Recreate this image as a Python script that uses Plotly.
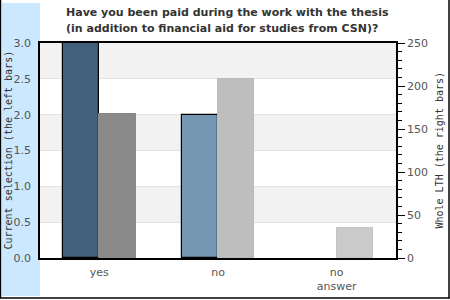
import plotly.graph_objects as go

categories = ["yes", "no", "no<br>answer"]
current_selection = [3, 2, 0]
whole_lth = [167, 208, 35]
left_colors = ["#41607c", "#7597b3", "#7597b3"]
right_colors = ["#8a8a8a", "#bebebe", "#cbcbcb"]
right_lines = ["#888888", "#bababa", "#c2c2c2"]
left_ticks = [0, 0.5, 1.0, 1.5, 2.0, 2.5, 3.0]
right_ticks = [0, 50, 100, 150, 200, 250]
title_lines = ["Have you been paid during the work with the thesis",
               "(in addition to financial aid for studies from CSN)?"]

L, R, T, B = 40, 54, 43, 42
W, H = 450, 300
pw, ph = W - L - R, H - T - B

def px(x):
    return (x - L) / pw

def py(y):
    return (H - B - y) / ph

x_idx = list(range(len(categories)))

fig = go.Figure()
fig.add_trace(go.Bar(
    x=x_idx, y=current_selection, yaxis="y", width=0.305, offset=-0.305,
    marker=dict(color=left_colors, line=dict(color="black", width=[1.2 if v > 0 else 0 for v in current_selection])),
    showlegend=False, hoverinfo="skip"))
fig.add_trace(go.Bar(
    x=x_idx, y=whole_lth, yaxis="y2", width=0.305, offset=0,
    marker=dict(color=right_colors, line=dict(color=right_lines, width=1)),
    showlegend=False, hoverinfo="skip"))

shapes = []
shapes.append(dict(type="rect", xref="paper", yref="paper", x0=px(2), x1=px(40), y0=py(296), y1=py(3),
                   fillcolor="#cce8ff", line=dict(width=0), layer="below"))
for lo in [0.5, 1.5, 2.5]:
    shapes.append(dict(type="rect", xref="paper", yref="y", x0=0, x1=1, y0=lo, y1=lo + 0.5,
                       fillcolor="#f2f2f2", line=dict(width=0), layer="below"))
shapes.append(dict(type="line", xref="paper", yref="paper", x0=px(0.5), x1=px(0.5), y0=py(298.5), y1=py(0),
                   line=dict(color="black", width=1.5)))
shapes.append(dict(type="line", xref="paper", yref="paper", x0=px(0), x1=px(449.5), y0=py(298), y1=py(298),
                   line=dict(color="black", width=1.5)))
shapes.append(dict(type="line", xref="paper", yref="paper", x0=px(449), x1=px(449), y0=py(298.5), y1=py(0),
                   line=dict(color="black", width=1.5)))

title_font = dict(family="DejaVu Sans", size=11, color="#333333", weight="bold")
annotations = [
    dict(text=title_lines[0], xref="paper", yref="paper", x=px(64), y=py(12), xanchor="left", yanchor="middle",
         showarrow=False, font=title_font),
    dict(text=title_lines[1], xref="paper", yref="paper", x=px(64), y=py(28), xanchor="left", yanchor="middle",
         showarrow=False, font=title_font),
    dict(text="Current selection (the left bars)", xref="paper", yref="paper", x=px(8), y=0.5,
         xanchor="center", yanchor="middle",
         textangle=-90, showarrow=False, font=dict(family="DejaVu Sans Mono", size=10, color="#333333")),
    dict(text="Whole LTH (the right bars)", xref="paper", yref="paper", x=px(439), y=0.5,
         xanchor="center", yanchor="middle",
         textangle=-90, showarrow=False, font=dict(family="DejaVu Sans Mono", size=10, color="#333333")),
]

fig.update_layout(
    width=W, height=H,
    margin=dict(l=L, r=R, t=T, b=B, autoexpand=False),
    paper_bgcolor="white", plot_bgcolor="white",
    xaxis=dict(range=[-0.5, 2.5], tickvals=x_idx, ticktext=categories, showgrid=False,
               showline=True, linecolor="black", linewidth=1.5, mirror=True,
               ticks="outside", ticklen=3, tickcolor="rgba(0,0,0,0)", automargin=False,
               tickfont=dict(family="DejaVu Sans", size=11, color="#555555"), zeroline=False),
    yaxis=dict(range=[0, 3], tickvals=left_ticks, tickformat=".1f", showgrid=True, gridcolor="#e2e2e2",
               gridwidth=1, showline=True, linecolor="black", linewidth=1.5, zeroline=False,
               ticks="outside", ticklen=5, tickcolor="rgba(0,0,0,0)", automargin=False,
               tickfont=dict(family="DejaVu Sans", size=11, color="#555555")),
    yaxis2=dict(range=[0, 250], tickvals=right_ticks, overlaying="y", side="right", showgrid=False,
                showline=True, linecolor="black", linewidth=1.5, ticks="outside", ticklen=7,
                tickcolor="black", zeroline=False, tickprefix="\u00a0", automargin=False,
                minor=dict(dtick=10, ticks="outside", ticklen=4, tickcolor="black"),
                tickfont=dict(family="DejaVu Sans", size=11, color="#555555")),
    shapes=shapes, annotations=annotations, bargap=0,
)

fig.write_html("out.html")
